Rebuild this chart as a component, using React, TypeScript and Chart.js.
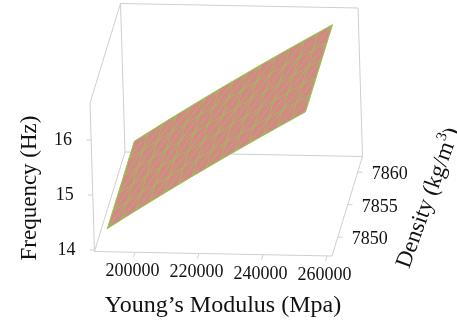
import React, { useEffect, useRef } from "react";
import { Chart, registerables } from "chart.js";

Chart.register(...registerables);

// ---------- data ----------
const youngsModulus = [191000, 195500, 200000, 204500, 209000, 213500, 218000, 222500, 227000, 231500, 236000, 240500, 245000, 249500, 254000];
const density = [7848, 7850.7, 7853.4, 7856.1, 7858.8, 7861.5];
// frequency[densityIndex][youngsIndex]
const freqRho0 = [14.290, 14.457, 14.623, 14.786, 14.948, 15.108, 15.267, 15.423, 15.578, 15.732, 15.884, 16.035, 16.184, 16.332, 16.479];
const freqRho1 = [14.288, 14.455, 14.620, 14.783, 14.945, 15.105, 15.264, 15.420, 15.575, 15.729, 15.881, 16.032, 16.181, 16.329, 16.476];
const freqRho2 = [14.285, 14.452, 14.618, 14.781, 14.943, 15.103, 15.262, 15.418, 15.573, 15.727, 15.879, 16.030, 16.178, 16.326, 16.473];
const freqRho3 = [14.283, 14.450, 14.616, 14.779, 14.940, 15.100, 15.259, 15.415, 15.570, 15.724, 15.876, 16.027, 16.176, 16.323, 16.470];
const freqRho4 = [14.280, 14.447, 14.613, 14.776, 14.938, 15.098, 15.256, 15.412, 15.567, 15.721, 15.873, 16.024, 16.173, 16.321, 16.468];
const freqRho5 = [14.278, 14.445, 14.611, 14.774, 14.935, 15.095, 15.254, 15.410, 15.565, 15.719, 15.871, 16.021, 16.170, 16.318, 16.465];
const frequency = [freqRho0, freqRho1, freqRho2, freqRho3, freqRho4, freqRho5];

const youngsRange = [187350, 261550];
const densityRange = [7847.1, 7862.4];
const frequencyRange = [13.973, 16.673];

const youngsTicks = [200000, 220000, 240000, 260000];
const densityTicks = [7850, 7855, 7860];
const frequencyTicks = [14, 15, 16];

const xTitle = "Young\u2019s Modulus (Mpa)";
const zTitle = "Frequency (Hz)";
const yTitleMain = "Density (kg/m";
const yTitleSup = "3";
const yTitleEnd = ")";

// ---------- projection (camera/style) ----------
const W = 457;
const H = 324;
const ORIGIN = [94.5, 251.5];
const AX_E = [237.5, 4.5];
const AX_RHO = [30.5, -99.5];
const AX_F = [-4.5, -148.5];

function project(E: number, rho: number, f: number) {
  const u = (E - youngsRange[0]) / (youngsRange[1] - youngsRange[0]);
  const v = (rho - densityRange[0]) / (densityRange[1] - densityRange[0]);
  const w = (f - frequencyRange[0]) / (frequencyRange[1] - frequencyRange[0]);
  return {
    x: ORIGIN[0] + u * AX_E[0] + v * AX_RHO[0] + w * AX_F[0],
    y: ORIGIN[1] + u * AX_E[1] + v * AX_RHO[1] + w * AX_F[1],
  };
}

const BOX = "#cfcfcf";
const PINK = "rgb(213,134,134)";
const GREEN = "rgba(146,200,78,0.9)";
const SERIF = '"Liberation Serif", "Times New Roman", serif';

function lineDs(points: { x: number; y: number }[], color: string, width = 1) {
  return {
    type: "scatter" as const,
    data: points,
    showLine: true,
    borderColor: color,
    borderWidth: width,
    pointRadius: 0,
    fill: false,
    tension: 0,
  };
}

function buildDatasets() {
  const [e0, e1] = youngsRange;
  const [r0, r1] = densityRange;
  const [f0, f1] = frequencyRange;
  const ds: any[] = [];
  const edges: [number, number, number][][] = [
    [[e0, r0, f0], [e1, r0, f0]],
    [[e1, r0, f0], [e1, r1, f0]],
    [[e0, r0, f0], [e0, r1, f0]],
    [[e0, r1, f0], [e1, r1, f0]],
    [[e0, r0, f0], [e0, r0, f1]],
    [[e0, r0, f1], [e0, r1, f1]],
    [[e0, r1, f0], [e0, r1, f1]],
    [[e0, r1, f1], [e1, r1, f1]],
    [[e1, r1, f0], [e1, r1, f1]],
  ];
  edges.forEach((seg) => ds.push(lineDs(seg.map((p) => project(p[0], p[1], p[2])), BOX)));
  // tick marks
  youngsTicks.forEach((t) =>
    ds.push(lineDs([project(t, r0, f0), project(t, r0 - 0.05 * (r1 - r0), f0)], BOX))
  );
  densityTicks.forEach((t) =>
    ds.push(lineDs([project(e1, t, f0), project(e1 + 0.02 * (e1 - e0), t, f0)], BOX))
  );
  frequencyTicks.forEach((t) =>
    ds.push(lineDs([project(e0, r0, t), project(e0 - 0.02 * (e1 - e0), r0, t)], BOX))
  );

  // surface outline fill
  const nE = youngsModulus.length;
  const nR = density.length;
  const P = (i: number, j: number) => project(youngsModulus[i], density[j], frequency[j][i]);
  const outline: { x: number; y: number }[] = [];
  for (let i = 0; i < nE; i++) outline.push(P(i, 0));
  for (let j = 1; j < nR; j++) outline.push(P(nE - 1, j));
  for (let i = nE - 2; i >= 0; i--) outline.push(P(i, nR - 1));
  for (let j = nR - 2; j >= 0; j--) outline.push(P(0, j));
  ds.push({
    type: "scatter",
    data: outline,
    showLine: true,
    borderColor: GREEN,
    borderWidth: 1,
    backgroundColor: PINK,
    pointRadius: 0,
    fill: "shape",
    tension: 0,
  });
  // mesh
  for (let i = 0; i < nE; i++) {
    const pts = [];
    for (let j = 0; j < nR; j++) pts.push(P(i, j));
    ds.push(lineDs(pts, GREEN, 0.8));
  }
  for (let j = 0; j < nR; j++) {
    const pts = [];
    for (let i = 0; i < nE; i++) pts.push(P(i, j));
    ds.push(lineDs(pts, GREEN, 0.8));
  }
  for (let k = -(nR - 1); k < nE; k++) {
    const pts = [];
    for (let j = 0; j < nR; j++) {
      const i = j + k;
      if (i >= 0 && i < nE) pts.push(P(i, j));
    }
    if (pts.length > 1) ds.push(lineDs(pts, GREEN, 0.8));
  }
  // later datasets on top
  ds.forEach((d, idx) => (d.order = -idx));
  return ds;
}

const labelsPlugin = {
  id: "labels3d",
  afterDraw(chart: any) {
    const ctx = chart.ctx as CanvasRenderingContext2D;
    const sx = chart.scales.x;
    const sy = chart.scales.y;
    const px = (p: { x: number; y: number }) => ({ x: sx.getPixelForValue(p.x), y: sy.getPixelForValue(p.y) });
    const [e0, e1] = youngsRange;
    const [r0] = densityRange;
    const [f0] = frequencyRange;
    ctx.save();
    ctx.fillStyle = "#111";
    ctx.font = `18px ${SERIF}`;
    ctx.textBaseline = "alphabetic";
    ctx.textAlign = "center";
    youngsTicks.forEach((t) => {
      const p = px(project(t, r0, f0));
      ctx.fillText(String(t), p.x - 2.5, p.y + 24);
    });
    ctx.textAlign = "left";
    densityTicks.forEach((t) => {
      const p = px(project(e1, t, f0));
      ctx.fillText(String(t), p.x + 14, p.y + 7);
    });
    ctx.textAlign = "right";
    frequencyTicks.forEach((t) => {
      const p = px(project(e0, r0, t));
      ctx.fillText(String(t), p.x - 19, p.y + 5);
    });

    // titles
    ctx.font = `24px ${SERIF}`;
    ctx.textAlign = "center";
    ctx.fillText(xTitle, 223, 311.5);

    ctx.font = `23px ${SERIF}`;
    ctx.save();
    ctx.translate(35.5, 188);
    ctx.rotate(-Math.PI / 2);
    ctx.fillText(zTitle, 0, 0);
    ctx.restore();

    ctx.save();
    ctx.translate(428.5, 198);
    ctx.rotate((-70 * Math.PI) / 180);
    ctx.textAlign = "left";
    ctx.textBaseline = "middle";
    ctx.font = `23px ${SERIF}`;
    const w1 = ctx.measureText(yTitleMain).width;
    const w3 = ctx.measureText(yTitleEnd).width;
    ctx.font = `15px ${SERIF}`;
    const w2 = ctx.measureText(yTitleSup).width;
    const total = w1 + w2 + w3;
    let x = -total / 2;
    ctx.font = `23px ${SERIF}`;
    ctx.fillText(yTitleMain, x, 0);
    x += w1;
    ctx.font = `15px ${SERIF}`;
    ctx.fillText(yTitleSup, x, -8);
    x += w2;
    ctx.font = `23px ${SERIF}`;
    ctx.fillText(yTitleEnd, x, 0);
    ctx.restore();

    ctx.restore();
  },
};

export default function App() {
  const ref = useRef<HTMLCanvasElement | null>(null);
  useEffect(() => {
    document.body.style.margin = "0";
    const canvas = ref.current;
    if (!canvas) return;
    const chart = new Chart(canvas, {
      type: "scatter",
      data: { datasets: buildDatasets() },
      options: {
        responsive: false,
        maintainAspectRatio: false,
        animation: false,
        devicePixelRatio: 1,
        layout: { padding: 0 },
        events: [],
        plugins: { legend: { display: false }, tooltip: { enabled: false } },
        scales: {
          x: { type: "linear", min: 0, max: W, display: false },
          y: { type: "linear", min: 0, max: H, reverse: true, display: false },
        },
      },
      plugins: [labelsPlugin],
    } as any);
    return () => chart.destroy();
  }, []);
  return (
    <div style={{ width: W, height: H, background: "#fff" }}>
      <canvas ref={ref} width={W} height={H} style={{ display: "block" }} />
    </div>
  );
}
